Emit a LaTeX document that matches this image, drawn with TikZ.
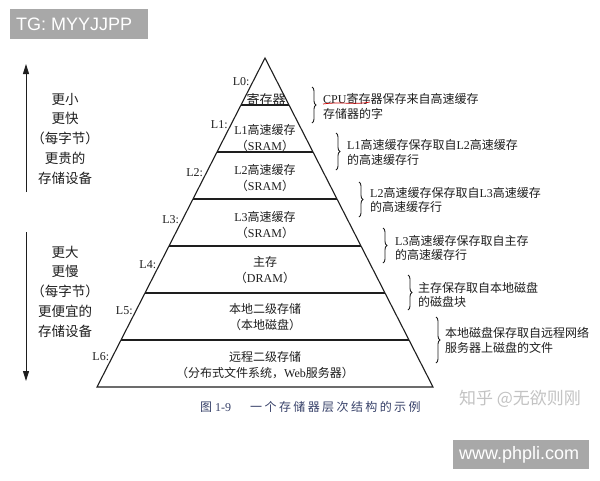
\documentclass[tikz,border=0pt]{standalone}
\usepackage{fontspec}
\setmainfont{Liberation Serif}
\newfontfamily\cjk{Noto Sans CJK SC}
\newfontfamily\cjkcap[LetterSpace=20]{Noto Sans CJK SC}
\newfontfamily\sansf{Liberation Sans}
\usetikzlibrary{calc,decorations.pathreplacing,arrows.meta}
\definecolor{ink}{RGB}{30,30,30}
\definecolor{boxgray}{RGB}{168,168,168}
\definecolor{capblue}{RGB}{55,65,105}
\definecolor{wmgray}{RGB}{195,195,195}
\begin{document}
\begin{tikzpicture}[x=1pt,y=-1pt,
  line/.style={draw=ink, line width=1.1pt},
  bracestyle/.style={draw=ink, line width=0.9pt, decorate, decoration={brace, amplitude=4pt}},
  txt/.style={inner sep=0pt, font=\fontsize{12}{14}\selectfont, text=ink},
  lefttxt/.style={inner sep=0pt, font=\fontsize{13.5}{15}\selectfont\cjk, text=ink},
  rtxt/.style={txt, anchor=west},
  arrowline/.style={draw=ink, line width=1pt, -{Triangle[length=10pt,width=6pt]}}
]
\fill[white] (0,0) rectangle (600,480);
\useasboundingbox (0,0) rectangle (600,480);

% watermark boxes
\fill[boxgray] (10,9) rectangle (148,39);
\node[anchor=west, inner sep=0pt, text=white, font=\sansf\fontsize{18}{18}\selectfont] (tg) at (16,24.5) {TG: MYYJJPP};
\fill[boxgray] (453,440) rectangle (589,469);
\node[anchor=west, inner sep=0pt, text=white, font=\sansf\fontsize{18}{18}\selectfont] (www) at (459,455) {www.phpli.com};
\node[inner sep=0pt, text=wmgray, font=\fontsize{17}{17}\selectfont\cjk] (wm) at (520,399) {知乎 @无欲则刚};

% pyramid
\coordinate (A) at (265,58);
\coordinate (BL) at (97,387);
\coordinate (BR) at (433,387);
\draw[line, line join=miter] (A) -- (BL) -- (BR) -- cycle;
\foreach \k in {1,...,6} {
  \draw[line] ($(A)!\k/7!(BL)$) -- ($(A)!\k/7!(BR)$);
}

% level labels
\foreach \n/\y in {0/82,1/125,2/173,3/220,4/265,5/311,6/357} {
  \node[txt, anchor=east] (lab\n) at ({265-(\y-58)/329*168-3},\y) {L\n:};
}

% inner texts
\node[txt] (t0) at (266,100) {\fontsize{13}{14}\selectfont\cjk 寄存器};
\node[txt] (t1a) at (265,130) {L1{\cjk 高速缓存}};
\node[txt] (t1b) at (265,146) {{\cjk （}SRAM{\cjk ）}};
\node[txt] (t2a) at (265,170) {L2{\cjk 高速缓存}};
\node[txt] (t2b) at (265,186) {{\cjk （}SRAM{\cjk ）}};
\node[txt] (t3a) at (265,217) {L3{\cjk 高速缓存}};
\node[txt] (t3b) at (265,233) {{\cjk （}SRAM{\cjk ）}};
\node[txt] (t4a) at (265,262) {\cjk 主存};
\node[txt] (t4b) at (265,278) {{\cjk （}DRAM{\cjk ）}};
\node[txt] (t5a) at (265,309) {\cjk 本地二级存储};
\node[txt] (t5b) at (265,325) {\cjk （本地磁盘）};
\node[txt] (t6a) at (265,357) {\cjk 远程二级存储};
\node[txt] (t6b) at (265,373) {{\cjk （分布式文件系统，}Web{\cjk 服务器）}};

% right braces and texts
\draw[bracestyle] (312,87) -- (312,123);
\node[rtxt] (r1a) at (323,99) {CPU{\cjk 寄存器保存来自高速缓存}};
\node[rtxt] (r1b) at (323,114) {\cjk 存储器的字};
\draw[red!80!black, line width=0.7pt] (323,104) .. controls (340,101.5) and (356,105) .. (370,102);

\draw[bracestyle] (336,133) -- (336,170);
\node[rtxt] (r2a) at (347,145) {L1{\cjk 高速缓存保存取自}L2{\cjk 高速缓存}};
\node[rtxt] (r2b) at (347,160) {\cjk 的高速缓存行};

\draw[bracestyle] (359,182) -- (359,217);
\node[rtxt] (r3a) at (370,193) {L2{\cjk 高速缓存保存取自}L3{\cjk 高速缓存}};
\node[rtxt] (r3b) at (370,207) {\cjk 的高速缓存行};

\draw[bracestyle] (383,228) -- (383,263);
\node[rtxt] (r4a) at (395,241) {L3{\cjk 高速缓存保存取自主存}};
\node[rtxt] (r4b) at (395,255) {\cjk 的高速缓存行};

\draw[bracestyle] (408,275) -- (408,310);
\node[rtxt] (r5a) at (418,288) {\cjk 主存保存取自本地磁盘};
\node[rtxt] (r5b) at (418,302) {\cjk 的磁盘块};

\draw[bracestyle] (436,317) -- (436,363);
\node[rtxt] (r6a) at (445,333) {\cjk 本地磁盘保存取自远程网络};
\node[rtxt] (r6b) at (445,348) {\cjk 服务器上磁盘的文件};

% left arrows and texts
\coordinate (u1) at (26,192);
\coordinate (u2) at (26,64);
\draw[arrowline] (u1) -- (u2);
\coordinate (d1) at (26,232);
\coordinate (d2) at (26,381);
\draw[arrowline] (d1) -- (d2);

\node[lefttxt] (l1) at (65,99) {更小};
\node[lefttxt] (l2) at (65,118) {更快};
\node[lefttxt] (l3) at (65,138) {（每字节）};
\node[lefttxt] (l4) at (65,158) {更贵的};
\node[lefttxt] (l5) at (65,178) {存储设备};

\node[lefttxt] (m1) at (65,252) {更大};
\node[lefttxt] (m2) at (65,271) {更慢};
\node[lefttxt] (m3) at (65,291) {（每字节）};
\node[lefttxt] (m4) at (65,311) {更便宜的};
\node[lefttxt] (m5) at (65,331) {存储设备};

% caption
\node[txt, anchor=west, text=capblue] (cap1) at (200,407) {{\cjk 图} 1-9};
\node[txt, anchor=west, text=capblue] (cap2) at (250,407) {\cjkcap 一个存储器层次结构的示例};
\end{tikzpicture}
\end{document}
